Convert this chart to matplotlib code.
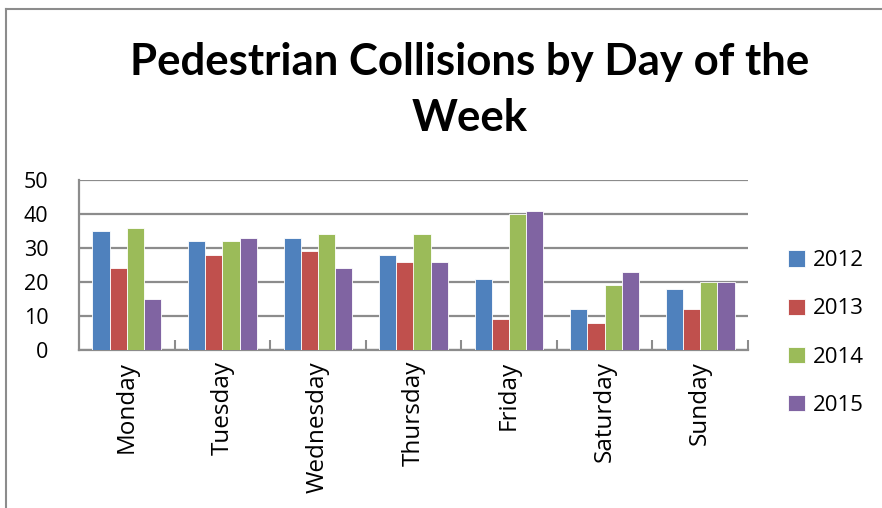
from matplotlib import pyplot as plt
from matplotlib.lines import Line2D
import numpy as np

days = ['Monday', 'Tuesday', 'Wednesday', 'Thursday', 'Friday', 'Saturday', 'Sunday']
years = ['2012', '2013', '2014', '2015']
v2012 = [35, 32, 33, 28, 21, 12, 18]
v2013 = [24, 28, 29, 26, 9, 8, 12]
v2014 = [36, 32, 34, 34, 40, 19, 20]
v2015 = [15, 33, 24, 26, 41, 23, 20]
kalas = ['#4F81BD', '#C0504D', '#9BBB59', '#8064A2']

plt.rcParams['font.family'] = ['Open Sans', 'DejaVu Sans']
W, H = 882, 508
fig = plt.figure(figsize=(W / 100, H / 100), dpi=100)
ax = fig.add_axes([79 / W, 1 - 350 / H, (748 - 79) / W, (350 - 180) / H])

x = np.arange(len(days))
bw = 0.18
for i, vals in enumerate([v2012, v2013, v2014, v2015]):
    ax.bar(x + (i - 1.5) * bw, vals, bw, color=kalas[i], edgecolor='white',
           linewidth=0.6, label=years[i], zorder=3)

ax.set_xlim(-0.5, len(days) - 0.5)
ax.set_ylim(0, 50)
ax.set_yticks(range(0, 51, 10))
ax.yaxis.grid(True, color='#8c8c8c', linewidth=1.6, zorder=0)
ax.tick_params(axis='y', length=0, labelsize=15.5, pad=22)
ax.set_xticks(x)
ax.set_xticklabels(days, rotation=90, fontsize=17.5)
ax.tick_params(axis='x', length=0, pad=8)
ax.set_xticks(np.arange(0.5, len(days), 1), minor=True)
ax.tick_params(axis='x', which='minor', direction='in', length=7, width=1.5, color='#8c8c8c')
for s in ['top', 'right']:
    ax.spines[s].set_visible(False)
for s in ['left', 'bottom']:
    ax.spines[s].set_color('#8c8c8c')
    ax.spines[s].set_linewidth(1.6)

fig.text(470 / W, 1 - 62 / H, 'Pedestrian Collisions by Day of the', ha='center', va='center',
         fontsize=31.5, fontweight='bold', family=['Lato', 'DejaVu Sans'])
fig.text(470 / W, 1 - 118 / H, 'Week', ha='center', va='center', fontsize=31.5,
         fontweight='bold', family=['Lato', 'DejaVu Sans'])

leg = fig.legend(loc='center left', bbox_to_anchor=(768 / W, 1 - 333 / H), frameon=False,
                 fontsize=16, handlelength=0.75, handleheight=0.75, labelspacing=1.22,
                 handletextpad=0.35)

# outer frame
fig.add_artist(Line2D([6 / W, 6 / W], [0, 1 - 9 / H], color='#8c8c8c', linewidth=1.5))
fig.add_artist(Line2D([6 / W, 1], [1 - 9 / H, 1 - 9 / H], color='#8c8c8c', linewidth=1.5))

plt.savefig('out.png', dpi=100)
